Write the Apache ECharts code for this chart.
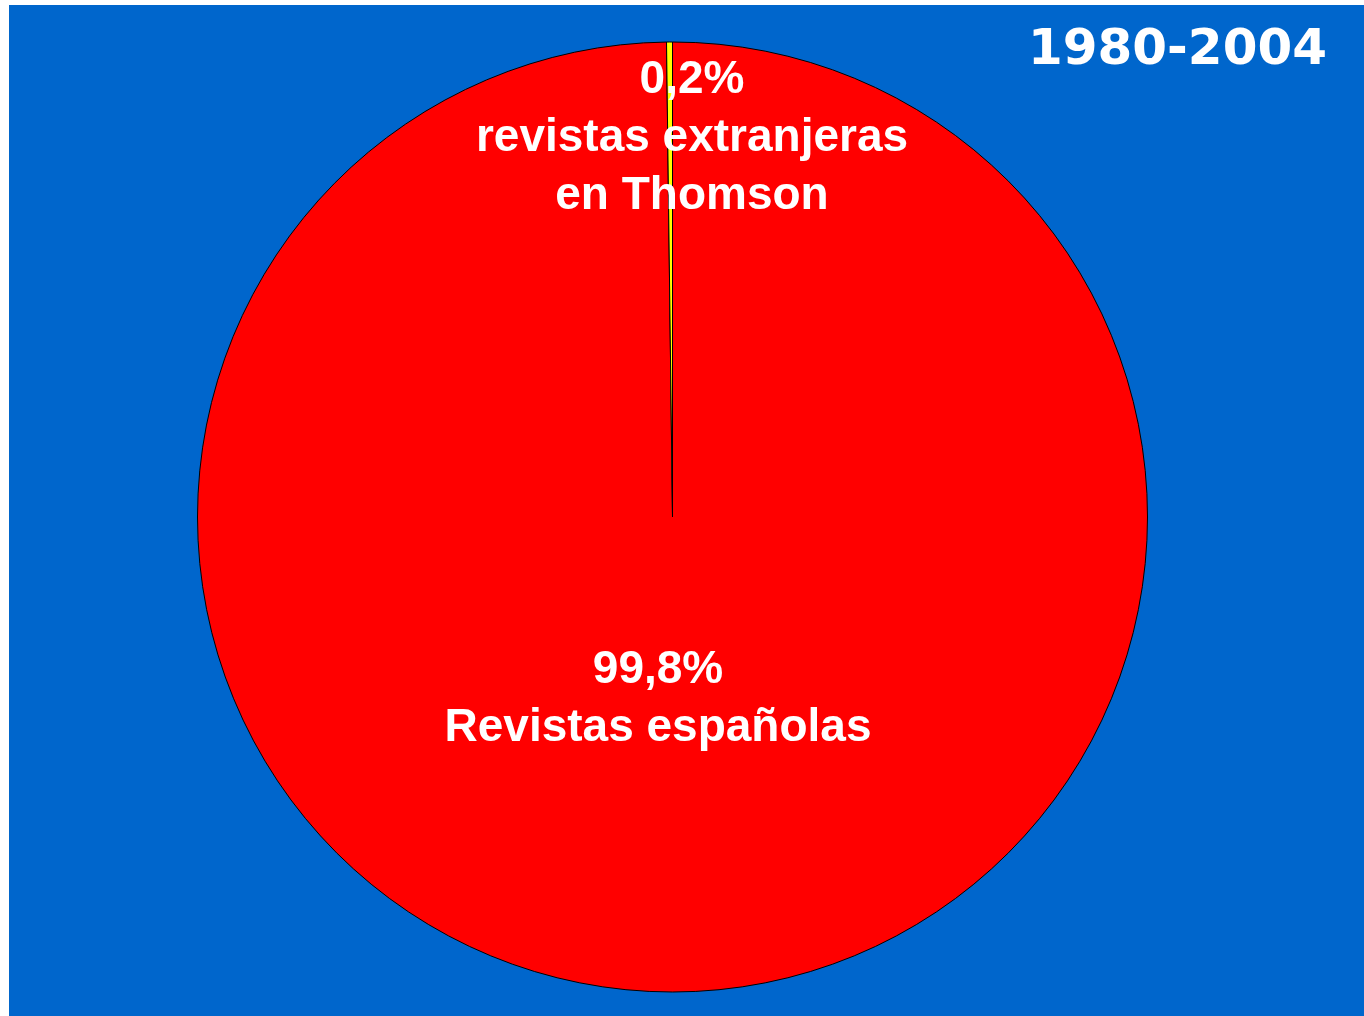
<!DOCTYPE html>
<html>
<head>
	<meta charset="utf-8">
	<title>Revistas 1980-2004</title>
	<style>
		html, body { margin: 0; padding: 0; background: #fff; }
		#chart { position: absolute; left: 9px; top: 5px; width: 1355px; height: 1011px; }
	</style>
</head>
<body>
	<div id="chart"></div>
<script type="text/javascript" src="https://cdn.jsdelivr.net/npm/echarts@6/dist/echarts.min.js"></script>
<script type="text/javascript">
	var periodo = '1980-2004';
	var categorias = ['Revistas españolas', 'revistas extranjeras\nen Thomson'];
	var valores = [99.8, 0.2];
	var etiquetasPct = ['99,8%', '0,2%'];
	var colores = ['#FF0000', '#FFFF00'];

	var myChart = echarts.init(document.getElementById('chart'));

	// offsets para colocar los textos como en la diapositiva original
	var offsets = [[-16, -58], [21, -138]];

	var datos = categorias.map(function (c, i) {
		return {
			name: c,
			value: valores[i],
			itemStyle: { color: colores[i] },
			label: { offset: offsets[i], formatter: etiquetasPct[i] + '\n' + c }
		};
	});

	var option = {
		backgroundColor: '#0066CC',
		animation: false,
		title: {
			text: periodo,
			right: 32,
			top: 16,
			textStyle: {
				color: '#fff',
				fontFamily: 'DejaVu Sans',
				fontWeight: 'bold',
				fontSize: 50
			}
		},
		series: [
			{
				type: 'pie',
				center: [663.5, 512],
				radius: [0, 475],
				startAngle: 90,
				clockwise: true,
				avoidLabelOverlap: false,
				itemStyle: {
					borderColor: '#000',
					borderWidth: 1
				},
				label: {
					show: true,
					position: 'inside',
					color: '#fff',
					fontFamily: 'Liberation Sans, Arial',
					fontWeight: 'bold',
					fontSize: 46,
					lineHeight: 58,
					align: 'center'
				},
				labelLine: { show: false },
				emphasis: { disabled: true },
				data: datos
			}
		]
	};

	myChart.setOption(option);
</script>
</body>
</html>
